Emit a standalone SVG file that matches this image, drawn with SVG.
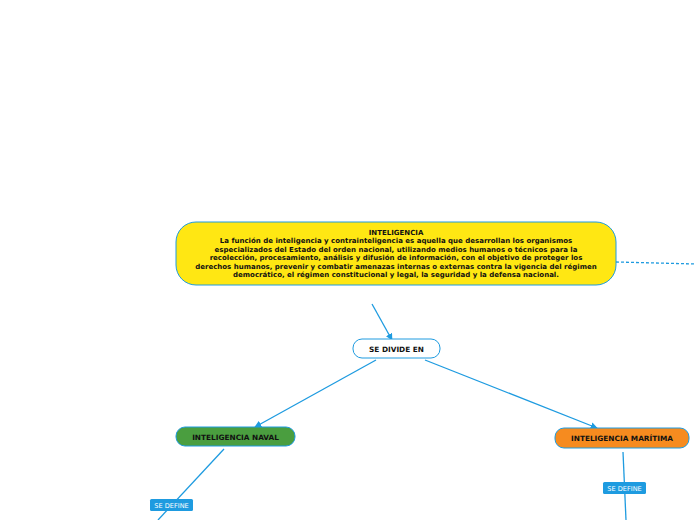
<svg xmlns="http://www.w3.org/2000/svg" width="696" height="520" viewBox="0 0 696 520">
<defs>
<marker id="arr" viewBox="0 0 10 10" refX="9" refY="5" markerWidth="7" markerHeight="7" orient="auto" markerUnits="userSpaceOnUse">
<path d="M0,0 L10,5 L0,10 z" fill="#1e9be0"/>
</marker>
<style>
.t{font-family:"DejaVu Sans",Verdana,sans-serif;font-weight:bold;font-size:7px;fill:#111;text-anchor:middle}
.n{font-family:"DejaVu Sans",Verdana,sans-serif;font-weight:bold;font-size:7.35px;fill:#111;text-anchor:middle}
.c{stroke:#1e9be0;stroke-width:1.3;fill:none}
.lb{font-family:"DejaVu Sans",Verdana,sans-serif;font-size:6.6px;fill:#fff;text-anchor:middle}
</style>
</defs>
<rect width="696" height="520" fill="#fff"/>
<g id="connectors">
<path class="c" d="M616,262 L696,264" stroke-dasharray="3,2"/>
<path class="c" d="M372,304 L392,340" marker-end="url(#arr)"/>
<path class="c" d="M376,360 L255,427" marker-end="url(#arr)"/>
<path class="c" d="M425,360 L597,428" marker-end="url(#arr)"/>
<path class="c" d="M224,449 L158,520"/>
<path class="c" d="M623,452 L626,520"/>
<g>
<rect x="150" y="499" width="43" height="12" rx="1.5" fill="#1e9be0"/>
<text class="lb" x="171.5" y="507.5">SE DEFINE</text>
</g>
<g>
<rect x="603" y="482" width="43" height="12" rx="1.5" fill="#1e9be0"/>
<text class="lb" x="624.5" y="490.5">SE DEFINE</text>
</g>
</g>
<g id="inteligencia">
<rect x="176" y="222" width="440" height="63" rx="20" fill="#ffe713" stroke="#1e9be0" stroke-width="1"/>
<text class="t" x="396" y="234.5">INTELIGENCIA</text>
<text class="t" x="396" y="243">La función de inteligencia y contrainteligencia es aquella que desarrollan los organismos</text>
<text class="t" x="396" y="251.5">especializados del Estado del orden nacional, utilizando medios humanos o técnicos para la</text>
<text class="t" x="396" y="260">recolección, procesamiento, análisis y difusión de información, con el objetivo de proteger los</text>
<text class="t" x="396" y="268.5">derechos humanos, prevenir y combatir amenazas internas o externas contra la vigencia del régimen</text>
<text class="t" x="396" y="277">democrático, el régimen constitucional y legal, la seguridad y la defensa nacional.</text>
</g>
<g id="se-divide-en">
<rect x="353" y="339" width="87" height="19" rx="9" fill="#fff" stroke="#1e9be0" stroke-width="1"/>
<text class="n" x="396.5" y="351.5">SE DIVIDE EN</text>
</g>
<g id="naval">
<rect x="176" y="427" width="119" height="19" rx="9" fill="#4a9e3f" stroke="#1e9be0" stroke-width="1"/>
<text class="n" x="235.5" y="439.5">INTELIGENCIA NAVAL</text>
</g>
<g id="maritima">
<rect x="555" y="428" width="134" height="20" rx="9" fill="#f68b1f" stroke="#1e9be0" stroke-width="1"/>
<text class="n" x="622" y="441">INTELIGENCIA MARÍTIMA</text>
</g>
</svg>
